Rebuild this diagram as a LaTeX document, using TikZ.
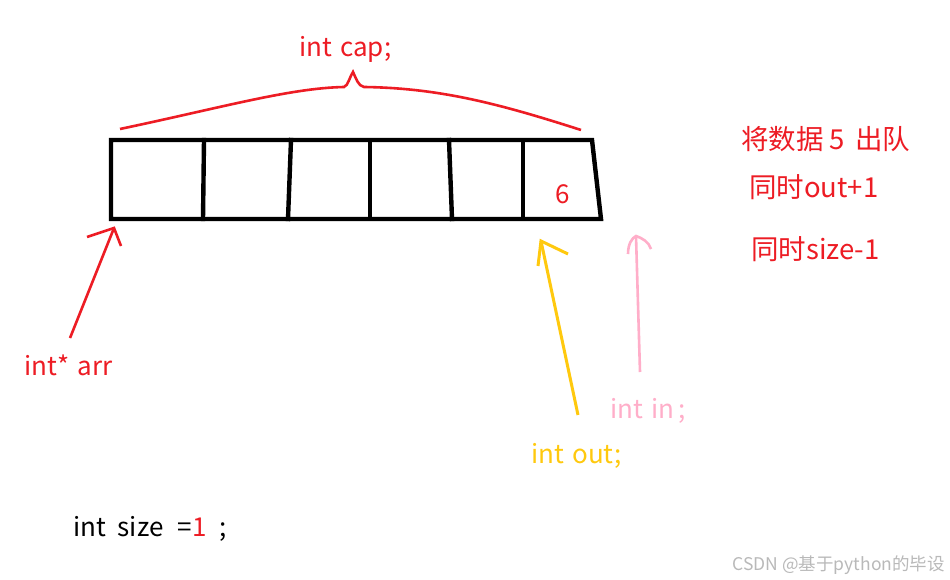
\documentclass[tikz,border=0pt]{standalone}
\usepackage{fontspec}
\setmainfont{Noto Sans CJK SC}
\definecolor{pred}{RGB}{237,28,36}
\definecolor{pyellow}{RGB}{255,201,14}
\definecolor{ppink}{RGB}{255,174,201}
\definecolor{wmgray}{RGB}{185,185,185}
\newcommand{\wsp}{\hspace{0.32em}}
\begin{document}
\begin{tikzpicture}[x=1pt,y=-1pt,
  boxline/.style={line width=4.4pt, black, line cap=rect},
  redline/.style={line width=2.6pt, pred},
  yelline/.style={line width=3pt, pyellow},
  pinkline/.style={line width=2.6pt, ppink},
  lbl/.style={inner sep=0pt, anchor=base west, font=\fontsize{26}{30}\selectfont},
  cjk/.style={inner sep=0pt, anchor=base west, font=\fontsize{27.5}{32}\selectfont, text=pred}]
\useasboundingbox (0,0) rectangle (950,580);
\fill[white] (0,0) rectangle (950,580);
% array
\coordinate (tl) at (111,140);
\coordinate (tr) at (592,140);
\coordinate (bl) at (111,219);
\coordinate (br) at (601,219);
\draw[boxline] (tr) -- (tl) -- (bl) -- (br) -- cycle;
\coordinate (d1t) at (204,140); \coordinate (d1b) at (203,219);
\coordinate (d2t) at (291,140); \coordinate (d2b) at (288,219);
\coordinate (d3t) at (370,140); \coordinate (d3b) at (370,219);
\coordinate (d4t) at (449,140); \coordinate (d4b) at (452,219);
\coordinate (d5t) at (523,140); \coordinate (d5b) at (523,219);
\foreach \i in {1,...,5} \draw[boxline] (d\i t) -- (d\i b);
\node[lbl, text=pred] (six) at (555,204) {6};
% brace
\coordinate (brL) at (120,129);
\coordinate (brML) at (344,87);
\coordinate (brP) at (353,72);
\coordinate (brMR) at (364,87);
\coordinate (brR) at (581,130);
\draw[redline] (brL) .. controls (220,108) and (290,88) .. (brML)
  .. controls (348,86) and (350,76) .. (brP)
  .. controls (356,78) and (358,86) .. (brMR)
  .. controls (440,88) and (500,104) .. (brR);
\node[lbl, text=pred] (cap) at (299,57) {int\wsp cap;};
% arr arrow
\coordinate (aT) at (70,338);
\coordinate (aH) at (114,228);
\coordinate (aH1) at (87,237);
\coordinate (aH2) at (121,246);
\draw[redline] (aT) -- (aH);
\draw[redline] (aH1) -- (aH) -- (aH2);
\node[lbl, text=pred] (arr) at (24,375) {int*\wsp arr};
% out arrow
\coordinate (oT) at (578,415);
\coordinate (oH) at (541,241);
\coordinate (oH1) at (538,266);
\coordinate (oH2) at (568,254);
\draw[yelline] (oT) -- (oH);
\draw[yelline] (oH1) -- (oH) -- (oH2);
\node[lbl, text=pyellow] (out) at (531,463) {int\wsp out;};
% in arrow
\coordinate (iT) at (640,372);
\coordinate (iH) at (636,236);
\coordinate (iH1) at (628,254);
\coordinate (iH2) at (651,249);
\draw[pinkline] (iT) -- (iH);
\draw[pinkline] (iH1) .. controls (628,244) and (632,238) .. (iH) .. controls (642,238) and (649,242) .. (iH2);
\node[lbl, text=ppink] (in) at (610,418) {int\wsp in\,;};
% right notes
\node[cjk] (n1) at (741,150) {将数据\hspace{0.2em}5\hspace{0.4em}出队};
\node[cjk] (n2) at (749,198) {同时out+1};
\node[cjk] (n3) at (751,259) {同时size-1};
% size
\node[lbl] (size) at (73,536) {int\hspace{0.45em}size\hspace{0.55em}=\textcolor{pred}{1}\hspace{0.5em};};
% watermark
\node[inner sep=0pt, anchor=base east, font=\fontsize{17.5}{20}\selectfont, text=wmgray] (wm) at (945,570) {CSDN @基于python的毕设};
\end{tikzpicture}
\end{document}
